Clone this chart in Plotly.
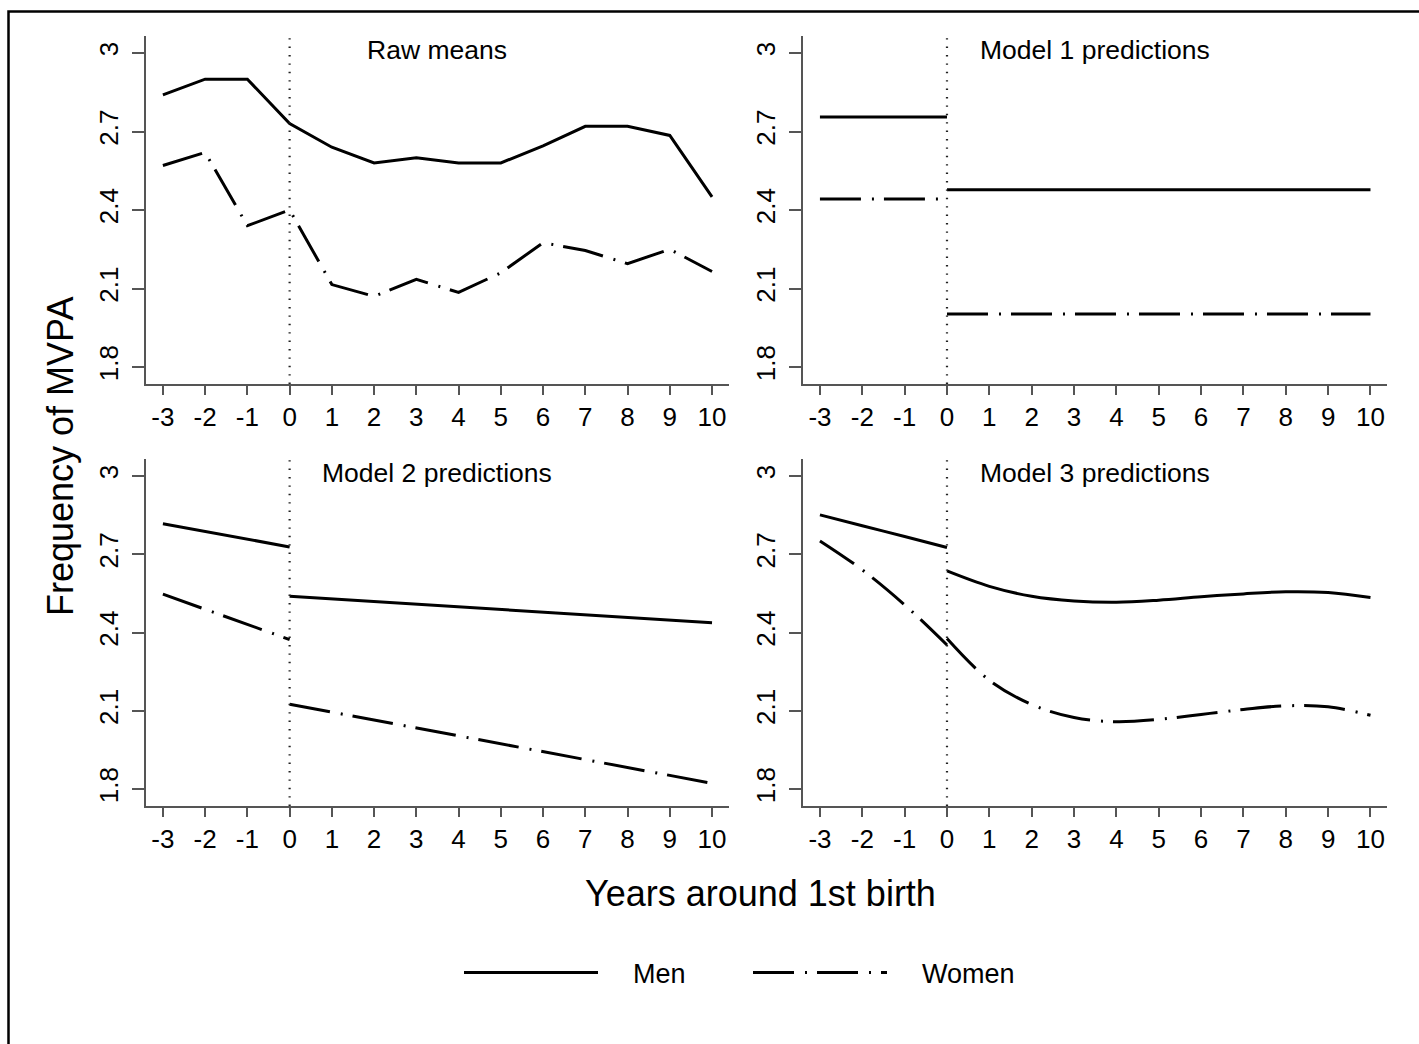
import plotly.graph_objects as go

# ---------------- data ----------------
years = [-3, -2, -1, 0, 1, 2, 3, 4, 5, 6, 7, 8, 9, 10]
year_labels = ["-3", "-2", "-1", "0", "1", "2", "3", "4", "5", "6", "7", "8", "9", "10"]
pre_years = [-3, -2, -1, 0]
post_years = [0, 1, 2, 3, 4, 5, 6, 7, 8, 9, 10]
pre_ends = [-3, 0]
post_ends = [0, 10]

raw_men = [2.84, 2.90, 2.90, 2.73, 2.64, 2.58, 2.60, 2.58, 2.58, 2.645, 2.72, 2.72, 2.685, 2.45]
raw_women = [2.57, 2.62, 2.34, 2.40, 2.115, 2.07, 2.135, 2.085, 2.16, 2.275, 2.245, 2.195, 2.25, 2.165]

m1_men_pre = [2.755, 2.755]
m1_men_post = [2.477, 2.477]
m1_women_pre = [2.442, 2.442]
m1_women_post = [2.003, 2.003]

m2_men_pre = [2.817, 2.728]
m2_men_post = [2.539, 2.437]
m2_women_pre = [2.547, 2.373]
m2_women_post = [2.125, 1.822]

m3_men_pre = [2.851, 2.809, 2.768, 2.726]
m3_men_post = [2.636, 2.577, 2.539, 2.521, 2.516, 2.524, 2.537, 2.548, 2.556, 2.553, 2.534]
m3_women_pre = [2.751, 2.640, 2.506, 2.352]
m3_women_post = [2.377, 2.217, 2.124, 2.074, 2.058, 2.067, 2.086, 2.105, 2.119, 2.115, 2.083]

panel_titles = ["Raw means", "Model 1 predictions", "Model 2 predictions", "Model 3 predictions"]
y_ticks = [1.8, 2.1, 2.4, 2.7, 3.0]
y_ticktext = ["1.8", "2.1", "2.4", "2.7", "3"]
series_names = ["Men", "Women"]

# ---------------- styling ----------------
W, H = 1419, 1044
FONT = "Liberation Sans, Arial, sans-serif"
AX = "#555555"
PAD = "\u00a0" * 4
MEN_STYLE = dict(color="black", width=3, dash="solid")
WOMEN_STYLE = dict(color="black", width=3, dash="41px,11px,2px,10px")

# panel pixel boxes (left, right, top, bottom)
boxes = [(146, 728.5, 36, 384), (803, 1387, 36, 384),
         (146, 728.5, 459, 806), (803, 1387, 459, 806)]

fig = go.Figure()

def add(panel, x, y, who, shape="linear", legend=False):
    ax = "" if panel == 0 else str(panel + 1)
    fig.add_trace(go.Scatter(
        x=x, y=y, mode="lines", name=PAD + series_names[who],
        line=dict(MEN_STYLE if who == 0 else WOMEN_STYLE, shape=shape),
        xaxis="x" + ax, yaxis="y" + ax,
        showlegend=legend, legendgroup=series_names[who], hoverinfo="skip"))

add(0, years, raw_men, 0, legend=True)
add(0, years, raw_women, 1, legend=True)
add(1, pre_ends, m1_men_pre, 0); add(1, post_ends, m1_men_post, 0)
add(1, pre_ends, m1_women_pre, 1); add(1, post_ends, m1_women_post, 1)
add(2, pre_ends, m2_men_pre, 0); add(2, post_ends, m2_men_post, 0)
add(2, pre_ends, m2_women_pre, 1); add(2, post_ends, m2_women_post, 1)
add(3, pre_years, m3_men_pre, 0, "spline"); add(3, post_years, m3_men_post, 0, "spline")
add(3, pre_years, m3_women_pre, 1, "spline"); add(3, post_years, m3_women_post, 1, "spline")

layout = dict(
    width=W, height=H, margin=dict(l=0, r=0, t=0, b=0),
    paper_bgcolor="white", plot_bgcolor="white",
    font=dict(family=FONT, color="black"),
    showlegend=True,
    legend=dict(orientation="h", x=459 / W, xanchor="left", y=1 - 973 / H, yanchor="middle",
                itemwidth=134, font=dict(size=27, family=FONT), entrywidth=140,
                bgcolor="rgba(0,0,0,0)"),
)

shapes = []
annotations = []
for i, (l, r, t, b) in enumerate(boxes):
    ax = "" if i == 0 else str(i + 1)
    layout["xaxis" + ax] = dict(
        domain=[l / W, r / W], anchor="y" + ax, range=[-3.4, 10.39],
        tickvals=years, ticktext=year_labels, ticks="outside", ticklen=9, tickwidth=1.5,
        tickcolor=AX, showline=True, linecolor=AX, linewidth=1.5, showgrid=False,
        zeroline=False, tickfont=dict(size=26, color="black"), ticklabelstandoff=0)
    layout["yaxis" + ax] = dict(
        domain=[1 - b / H, 1 - t / H], anchor="x" + ax, range=[1.735, 3.065],
        tickvals=y_ticks, ticktext=y_ticktext, tickangle=-90,
        ticks="outside", ticklen=12, tickwidth=1.5, tickcolor=AX,
        showline=True, linecolor=AX, linewidth=1.5, showgrid=False, zeroline=False,
        tickfont=dict(size=26, color="black"), ticklabelstandoff=4)
    shapes.append(dict(type="line", xref="x" + ax, yref="y" + ax + " domain",
                       x0=0, x1=0, y0=0, y1=1,
                       line=dict(color="#222222", width=2.2, dash="1.4px,7px")))
    annotations.append(dict(text=panel_titles[i], xref="x" + ax + " domain", x=0.5,
                            yref="paper", y=1 - (t + 14) / H, showarrow=False,
                            font=dict(size=26.5, family=FONT), xanchor="center", yanchor="middle"))

annotations.append(dict(text="Frequency of MVPA", xref="paper", yref="paper",
                        x=60 / W, y=1 - 457 / H, textangle=-90, showarrow=False,
                        font=dict(size=36, family=FONT), xanchor="center", yanchor="middle"))
annotations.append(dict(text="Years around 1st birth", xref="paper", yref="paper",
                        x=760 / W, y=1 - 893 / H, showarrow=False,
                        font=dict(size=36, family=FONT), xanchor="center", yanchor="middle"))

# outer frame
shapes.append(dict(type="rect", xref="paper", yref="paper", x0=8.5 / W, x1=1.03,
                   y0=-0.03, y1=1 - 11.5 / H, line=dict(color="black", width=2.5)))

layout["shapes"] = shapes
layout["annotations"] = annotations
fig.update_layout(**layout)
fig.write_html("out.html", config={"displayModeBar": False},
               post_script="document.body.style.margin='0';document.body.style.overflow='hidden';")
